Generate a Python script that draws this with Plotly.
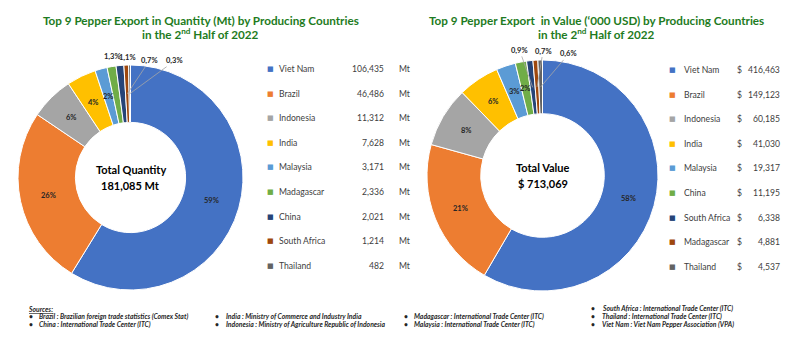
import math
import plotly.graph_objects as go

# ---------------- DATA ----------------
qty_countries = ["Viet Nam", "Brazil", "Indonesia", "India", "Malaysia",
                 "Madagascar", "China", "South Africa", "Thailand"]
qty_values = [106435, 46486, 11312, 7628, 3171, 2336, 2021, 1214, 482]

val_countries = ["Viet Nam", "Brazil", "Indonesia", "India", "Malaysia",
                 "China", "South Africa", "Madagascar", "Thailand"]
val_values = [416463, 149123, 60185, 41030, 19317, 11195, 6338, 4881, 4537]

slice_colors = ["#4472C4", "#ED7D31", "#A5A5A5", "#FFC000", "#5B9BD5",
                "#70AD47", "#264478", "#9E480E", "#636363"]

sources_col1 = ["Brazil : Brazilian foreign trade statistics (Comex Stat)",
                "China : International Trade Center (ITC)"]
sources_col2 = ["India : Ministry of Commerce and Industry India",
                "Indonesia : Ministry of Agriculture Republic of Indonesia"]
sources_col3 = ["Madagascar : International Trade Center (ITC)",
                "Malaysia : International Trade Center (ITC)"]
sources_col4 = ["South Africa : International Trade Center (ITC)",
                "Thailand : International Trade Center (ITC)",
                "Viet Nam : Viet Nam Pepper Association (VPA)"]

# ---------------- STYLE ----------------
W, H = 800, 361
FONT = "Lato"
TXT = "#262626"
LEG = "#404040"
GREEN = "#1E7B22"


def px(x):
    return x / W


def py(y):
    return 1 - y / H


def pct_text(v, total):
    p = v / total * 100
    if p >= 1.5:
        return f"{round(p)}%"
    return f"{p:.1f}%".replace(".", ",")


def ann(x, y, text, font, xanchor="center", **kw):
    d = dict(x=px(x), y=py(y), xref="paper", yref="paper", text=text,
             xanchor=xanchor, yanchor="middle", showarrow=False, font=font)
    d.update(kw)
    return d


fig = go.Figure()
annotations = []

charts = [
    dict(labels=qty_countries, values=qty_values, cx=130.5, cy=177.5, r=112.5, hole=0.49,
         n_out=4,
         out_off=[(-4, -38, False), (5, -37, False), (22, -33, True), (45, -33, True)],
         center=["Total Quantity", "{:,} Mt"],
         title1="Top 9 Pepper Export in Quantity (Mt) by Producing Countries", tx=201,
         leg=dict(y0=69, dy=24.6, mx=270, nx=277, vx=386, ux=397, unit="Mt", cur=None)),
    dict(labels=val_countries, values=val_values, cx=542.5, cy=175.5, r=115.5, hole=0.535,
         n_out=3,
         out_off=[(-13, -37, True), (6, -36, True), (28, -33, True)],
         center=["Total Value", "$ {:,}"],
         title1="Top 9 Pepper Export  in Value (\u2018000 USD) by Producing Countries", tx=596,
         leg=dict(y0=70, dy=24.6, mx=672, nx=682, vx=782, ux=None, unit=None, cur=735)),
]

for c in charts:
    cx, cy, r = c["cx"], c["cy"], c["r"]
    fig.add_trace(go.Pie(
        labels=c["labels"], values=c["values"], hole=c["hole"],
        sort=False, direction="clockwise", rotation=0,
        textinfo="none", hoverinfo="label+value+percent",
        marker=dict(colors=slice_colors, line=dict(color="white", width=1)),
        domain=dict(x=[px(cx - r), px(cx + r)], y=[py(cy + r), py(cy - r)]),
        showlegend=False,
    ))
    total = sum(c["values"])
    rmid = (r + r * c["hole"]) / 2
    n = len(c["values"])
    cum = 0
    for i, v in enumerate(c["values"]):
        mid = (cum + v / 2) / total
        cum += v
        th = 2 * math.pi * mid
        x = cx + rmid * math.sin(th)
        y = cy - rmid * math.cos(th)
        t = pct_text(v, total)
        j = i - (n - c["n_out"])
        f8 = dict(family=FONT, size=7.5, color=TXT)
        if j < 0:
            annotations.append(ann(x, y, f"<b>{t}</b>", f8))
        else:
            ax, ay, line = c["out_off"][j]
            annotations.append(ann(x, y, f"<b>{t}</b>", f8, showarrow=True, arrowhead=0,
                                   arrowwidth=0.8, ax=ax, ay=ay, standoff=0,
                                   arrowcolor="#A6A6A6" if line else "rgba(0,0,0,0)"))
    # centre text
    fc = dict(family=FONT, size=11, color="black")
    annotations.append(ann(cx, cy - 8, f"<b>{c['center'][0]}</b>", fc))
    annotations.append(ann(cx, cy + 8, f"<b>{c['center'][1].format(total)}</b>", fc))
    # titles
    ft = dict(family=FONT, size=11.7, color=GREEN)
    annotations.append(ann(c["tx"], 20, f"<b>{c['title1']}</b>", ft))
    annotations.append(ann(c["tx"], 34, "<b>in the 2<sup>nd</sup> Half of 2022</b>", ft))
    # legend
    lg = c["leg"]
    fl = dict(family=FONT, size=8.6, color=LEG)
    for i, (lab, v) in enumerate(zip(c["labels"], c["values"])):
        y = lg["y0"] + i * lg["dy"]
        annotations.append(ann(lg["mx"], y, "\u25A0",
                               dict(family="DejaVu Sans", size=7, color=slice_colors[i])))
        annotations.append(ann(lg["nx"], y, lab, fl, xanchor="left"))
        annotations.append(ann(lg["vx"], y, f"{v:,}", fl, xanchor="right"))
        if lg["unit"]:
            annotations.append(ann(lg["ux"], y, lg["unit"], fl, xanchor="left"))
        if lg["cur"]:
            annotations.append(ann(lg["cur"], y, "$", fl, xanchor="left"))

# sources footer
SRC_FONT = dict(family=FONT, size=6.8, color=TXT)
annotations.append(ann(26, 309, "<b><i><u>Sources:</u></i></b>", SRC_FONT, xanchor="left"))
for col, bx, tx, ys in [(sources_col1, 27, 37, [316, 324]),
                        (sources_col2, 213, 224, [316, 324]),
                        (sources_col3, 402, 412, [316, 324]),
                        (sources_col4, 589, 600, [308, 316, 324])]:
    for s, y in zip(col, ys):
        annotations.append(ann(bx, y, "<b>\u2022</b>", SRC_FONT, xanchor="left"))
        annotations.append(ann(tx, y, f"<b><i>{s}</i></b>", SRC_FONT, xanchor="left"))

fig.update_layout(
    width=W, height=H, margin=dict(l=0, r=0, t=0, b=0),
    paper_bgcolor="white", plot_bgcolor="white",
    showlegend=False, annotations=annotations,
    font=dict(family=FONT),
)

fig.write_html("out.html", config={"displayModeBar": False},
               post_script="document.body.style.margin='0';document.body.style.overflow='hidden';")
